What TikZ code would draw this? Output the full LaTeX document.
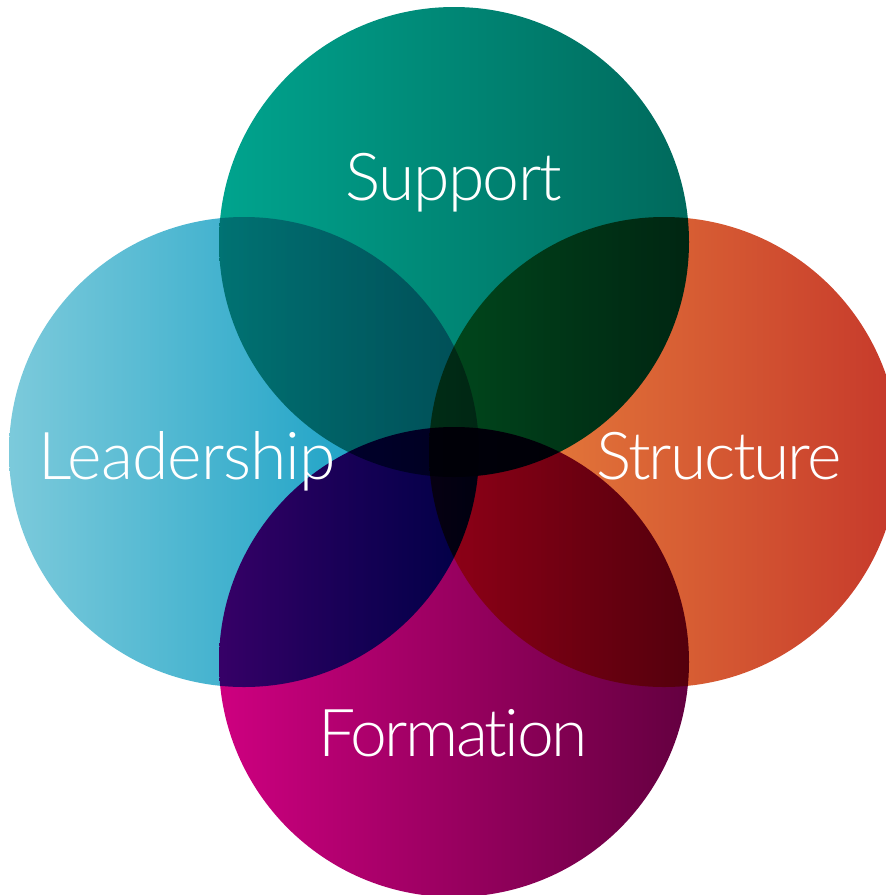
\documentclass[tikz,border=0pt]{standalone}
\usepackage{fontspec}
\setmainfont{Lato}[UprightFont={* Light},Ligatures=NoCommon]
\usetikzlibrary{shapes.geometric}
\definecolor{supL}{HTML}{00A48E}
\definecolor{supR}{HTML}{00695C}
\definecolor{leaL}{HTML}{7CCADB}
\definecolor{leaM}{HTML}{14A6C8}
\definecolor{leaR}{HTML}{0096C0}
\definecolor{strL}{HTML}{EC8A3E}
\definecolor{strR}{HTML}{C6392B}
\definecolor{forL}{HTML}{CE0080}
\definecolor{forR}{HTML}{640040}
\tikzset{
  disc/.style={circle, minimum size=470pt, inner sep=0pt, draw=none},
  lbl/.style={text=white, font=\fontsize{66}{70}\selectfont, anchor=base, inner sep=0pt}
}
\begin{document}
\begin{tikzpicture}[x=1pt,y=-1pt]
\useasboundingbox (0,0) rectangle (886,895);
\begin{scope}
\clip (0,0) rectangle (886,895);
\begin{scope}[blend group=multiply]
\node[disc, left color=supL, right color=supR] (sup) at (454,242) {};
\node[disc, left color=leaL, middle color=leaM, right color=leaR] (lea) at (244,452) {};
\node[disc, left color=strL, right color=strR] (str) at (664,452) {};
\node[disc, left color=forL, right color=forR] (for) at (454,662) {};
\end{scope}
\end{scope}
\node[lbl] (tsup) at (454,200) {\addfontfeature{LetterSpace=-2.5}Support};
\node[lbl] (tlea) at (187,479) {\addfontfeature{LetterSpace=-1.5}Leadership};
\node[lbl] (tstr) at (719,479) {\addfontfeature{LetterSpace=-3.3}Structure};
\node[lbl] (tfor) at (453,756) {\addfontfeature{LetterSpace=-4}Formation};
\end{tikzpicture}
\end{document}
